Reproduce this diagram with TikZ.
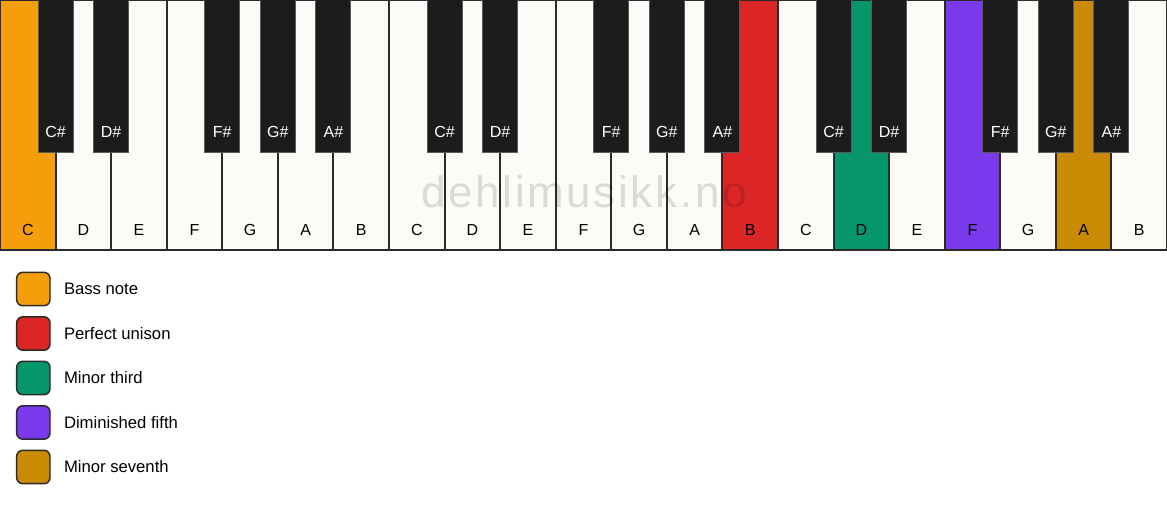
\documentclass[tikz,border=0pt]{standalone}
\usepackage{fontspec}
\setmainfont{Liberation Sans}
\usetikzlibrary{positioning}

\definecolor{keywhite}{HTML}{FCFBF8}
\definecolor{keyblack}{HTML}{1C1C1C}
\definecolor{keyline}{HTML}{2A2A2A}
\definecolor{blackline}{HTML}{5A5A5A}
\definecolor{bassnote}{HTML}{F59E0B}
\definecolor{unison}{HTML}{DC2626}
\definecolor{minthird}{HTML}{059669}
\definecolor{dimfifth}{HTML}{7C3AED}
\definecolor{minseventh}{HTML}{CA8A04}

\tikzset{
	whitekey/.style={draw=keyline,line width=1.5pt,rectangle,outer sep=0pt,inner sep=0pt,minimum width=41.679pt,minimum height=187.5pt,anchor=north west},
	blackkey/.style={draw=blackline,line width=0.75pt,fill=keyblack,rectangle,outer sep=0pt,inner sep=0pt,minimum width=26.25pt,minimum height=114.75pt,anchor=north},
	keylabel/.style={font=\fontsize{12}{14}\selectfont,inner sep=0pt},
	legendlabel/.style={font=\fontsize{12.5}{14}\selectfont,inner sep=0pt},
	legendbox/.style={draw=keyline,line width=1.1pt,rounded corners=4.5pt,minimum size=25pt,inner sep=0pt}
}

\begin{document}
\begin{tikzpicture}[x=1pt,y=1pt]

	\useasboundingbox (0,0) rectangle (875.25,-379.5);

	% white keys
	\foreach \n/\name/\col in {0/C/bassnote,1/D/keywhite,2/E/keywhite,3/F/keywhite,4/G/keywhite,5/A/keywhite,6/B/keywhite,
		7/C/keywhite,8/D/keywhite,9/E/keywhite,10/F/keywhite,11/G/keywhite,12/A/keywhite,13/B/unison,
		14/C/keywhite,15/D/minthird,16/E/keywhite,17/F/dimfifth,18/G/keywhite,19/A/minseventh,20/B/keywhite} {
		\node[whitekey,fill=\col] (w\n) at (\n*41.679,0) {};
		\node[keylabel] at ([yshift=15pt]w\n.south) {\name};
	}

	% black keys
	\foreach \n/\name in {0/C\#,1/D\#,3/F\#,4/G\#,5/A\#,7/C\#,8/D\#,10/F\#,11/G\#,12/A\#,14/C\#,15/D\#,17/F\#,18/G\#,19/A\#} {
		\node[blackkey] (b\n) at (w\n.north east) {};
		\node[keylabel,text=white] at ([yshift=15.5pt]b\n.south) {\name};
	}

	\node[font=\fontsize{33}{36}\selectfont\addfontfeature{LetterSpace=6},text=black,text opacity=0.13,inner sep=0pt] (mark) at (438,-144) {dehlimusikk.no};

	% legend
	\foreach \i/\col/\txt in {0/bassnote/Bass note,1/unison/Perfect unison,2/minthird/Minor third,3/dimfifth/Diminished fifth,4/minseventh/Minor seventh} {
		\node[legendbox,fill=\col] (l\i) at (25,-216.75-\i*33.375) {};
		\node[legendlabel,right=9.75pt of l\i] {\txt};
	}

\end{tikzpicture}
\end{document}
